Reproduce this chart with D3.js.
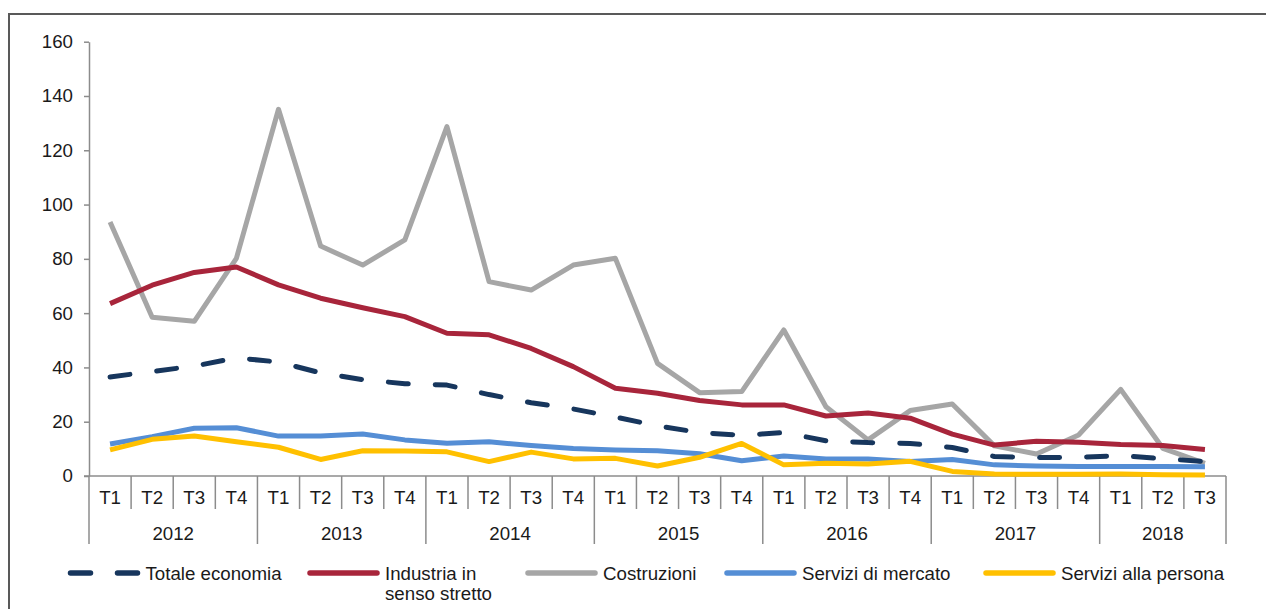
<!DOCTYPE html>
<html>
<head>
<meta charset="utf-8">
<script src="https://cdn.jsdelivr.net/npm/d3@7/dist/d3.min.js"></script>
<style>
  body { margin: 0; background: #fff; }
  text { font-family: "Liberation Sans", Arial, sans-serif; fill: #1a1a1a; }
</style>
</head>
<body>
<svg id="chart" width="1266" height="609"></svg>
<script>
// anni e trimestri (2018 fino a T3)
var years = ["2012", "2013", "2014", "2015", "2016", "2017", "2018"];
var quartersPerYear = [4, 4, 4, 4, 4, 4, 3];
var quarterLabels = ["T1", "T2", "T3", "T4"];
var yTicks = [0, 20, 40, 60, 80, 100, 120, 140, 160];

// serie
var totaleEconomia = [36.5, 38.5, 40.5, 43.5, 42, 38, 35.5, 34, 33.5, 30, 27, 24.7, 21.7, 18.5,
                      16, 15, 16, 13, 12.3, 12, 10.5, 7.2, 6.8, 6.9, 7.5, 6.4, 5.3];
var industria = [63.5, 70.3, 75, 77, 70.4, 65.5, 62, 58.7, 52.6, 52, 47, 40.3, 32.3, 30.5,
                 27.8, 26.2, 26.2, 22.1, 23.2, 21.3, 15.4, 11.4, 12.8, 12.4, 11.6, 11.2, 9.8];
var costruzioni = [93.6, 58.5, 57, 80.2, 135.1, 84.7, 77.7, 87, 128.7, 71.6, 68.5, 77.7, 80.2, 41.5,
                   30.7, 31.1, 53.8, 25.5, 13.3, 24.1, 26.5, 11.1, 8.1, 15.1, 31.9, 10.2, 4.7];
var serviziMercato = [11.8, 14.5, 17.6, 17.8, 14.7, 14.7, 15.5, 13.3, 12.1, 12.6, 11.2, 10.1, 9.6, 9.3,
                      8.2, 5.6, 7.4, 6.3, 6.3, 5.3, 6.1, 4.1, 3.7, 3.5, 3.5, 3.5, 3.4];
var serviziPersona = [9.6, 13.5, 14.7, 12.6, 10.6, 6.1, 9.3, 9.2, 8.9, 5.3, 8.8, 6.3, 6.5, 3.7,
                      6.9, 12, 4.1, 4.7, 4.4, 5.4, 1.7, 0.7, 0.6, 0.6, 0.7, 0.5, 0.4];

var seriesNames = ["Totale economia", "Industria in\nsenso stretto", "Costruzioni",
                   "Servizi di mercato", "Servizi alla persona"];
var seriesColors = ["#17365d", "#a8253b", "#a6a6a6", "#558ed5", "#ffc000"];

var series = [totaleEconomia, industria, costruzioni, serviziMercato, serviziPersona];

var fontSize = "18.7px";

// lista dei periodi
var periods = [];
years.forEach(function(yr, i) {
    for (var q = 0; q < quartersPerYear[i]; q++) {
        periods.push({ id: yr + quarterLabels[q], year: yr, q: quarterLabels[q] });
    }
});

var svg = d3.select("#chart");

// cornice (solo lato sopra e sinistro visibili)
svg.append("path")
   .attr("d", "M9,609 L9,14 L1266,14")
   .attr("fill", "none")
   .attr("stroke", "#595959")
   .attr("stroke-width", 2);

var x = d3.scaleBand()
          .domain(periods.map(function(p) { return p.id; }))
          .range([89, 1226]);
var y = d3.scaleLinear()
          .domain([0, 160])
          .range([476, 41.7]);

var axisColor = "#8c8c8c";

// asse y
var gy = svg.append("g")
   .attr("transform", "translate(89,0)")
   .call(d3.axisLeft(y).tickValues(yTicks).tickSize(5).tickSizeOuter(0).tickPadding(11));
gy.select(".domain").attr("stroke", axisColor).attr("stroke-width", 1.5);
gy.selectAll(".tick line").attr("stroke", axisColor).attr("stroke-width", 1.5);
gy.selectAll(".tick text")
  .style("font-size", fontSize)
  .style("font-family", "'Liberation Sans', Arial, sans-serif")
  .attr("fill", "#1a1a1a");

// asse x
var gx = svg.append("g");
gx.append("line")
  .attr("x1", 84).attr("x2", 1226)
  .attr("y1", 476).attr("y2", 476)
  .attr("stroke", axisColor).attr("stroke-width", 1.5);

var bw = x.bandwidth();
var boundaries = periods.map(function(p, i) {
    return { pos: x(p.id), yearStart: p.q === "T1" };
});
boundaries.push({ pos: x(periods[periods.length - 1].id) + bw, yearStart: true });

gx.selectAll(".sep")
  .data(boundaries)
  .enter().append("line")
  .attr("x1", function(d) { return d.pos; })
  .attr("x2", function(d) { return d.pos; })
  .attr("y1", 476)
  .attr("y2", function(d) { return d.yearStart ? 544 : 509; })
  .attr("stroke", axisColor).attr("stroke-width", 1.5);

gx.selectAll(".qlab")
  .data(periods)
  .enter().append("text")
  .attr("x", function(d) { return x(d.id) + bw / 2; })
  .attr("y", 497)
  .attr("dy", "0.35em")
  .attr("text-anchor", "middle")
  .style("font-size", fontSize)
  .text(function(d) { return d.q; });

var yearGroups = years.map(function(yr) {
    var ps = periods.filter(function(p) { return p.year === yr; });
    return { year: yr, x0: x(ps[0].id), x1: x(ps[ps.length - 1].id) + bw };
});
gx.selectAll(".ylab")
  .data(yearGroups)
  .enter().append("text")
  .attr("x", function(d) { return (d.x0 + d.x1) / 2; })
  .attr("y", 533)
  .attr("dy", "0.35em")
  .attr("text-anchor", "middle")
  .style("font-size", fontSize)
  .text(function(d) { return d.year; });

// linee
var line = d3.line()
    .x(function(d, i) { return x(periods[i].id) + bw / 2; })
    .y(function(d) { return y(d); });

// ordine di disegno: grigio sotto, poi gli altri
var drawOrder = [2, 1, 0, 3, 4];
drawOrder.forEach(function(k) {
    svg.append("path")
       .datum(series[k])
       .attr("d", line)
       .attr("fill", "none")
       .attr("stroke", seriesColors[k])
       .attr("stroke-width", 5)
       .attr("stroke-linejoin", "round")
       .attr("stroke-linecap", k === 0 ? "round" : "butt")
       .attr("stroke-dasharray", k === 0 ? "20,27" : null);
});

// legenda
var legendX = [70.5, 310, 528, 727, 986];
var legendY = 573;
seriesNames.forEach(function(name, k) {
    var g = svg.append("g").attr("transform", "translate(" + legendX[k] + "," + legendY + ")");
    g.append("line")
     .attr("x1", 0).attr("x2", 67)
     .attr("y1", 0).attr("y2", 0)
     .attr("stroke", seriesColors[k])
     .attr("stroke-width", 5.5)
     .attr("stroke-linecap", "round")
     .attr("stroke-dasharray", k === 0 ? "20,27" : null);
    var t = g.append("text")
     .attr("x", 75)
     .attr("y", 0)
     .style("font-size", fontSize);
    name.split("\n").forEach(function(part, j) {
        t.append("tspan")
         .attr("x", 75)
         .attr("dy", j === 0 ? "0.35em" : "1.08em")
         .text(part);
    });
});
</script>
</body>
</html>
